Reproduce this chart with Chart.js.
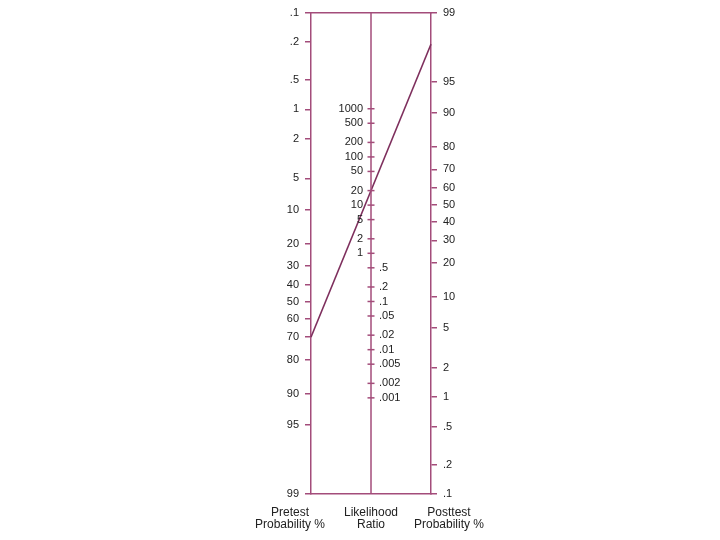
<!DOCTYPE html>
<html>
<head>
<meta charset="utf-8">
<script src="https://cdn.jsdelivr.net/npm/chart.js@4"></script>
<style>
  html, body { margin: 0; padding: 0; background: #fff; }
  #wrap { width: 720px; height: 540px; }
</style>
</head>
<body>
<div id="wrap"><canvas id="c" width="720" height="540"></canvas></div>
<script>
// ---- data ----
const axisTitles = [['Pretest', 'Probability %'], ['Likelihood', 'Ratio'], ['Posttest', 'Probability %']];
const pretestTicks = [0.1, 0.2, 0.5, 1, 2, 5, 10, 20, 30, 40, 50, 60, 70, 80, 90, 95, 99];
const pretestLabels = ['.1', '.2', '.5', '1', '2', '5', '10', '20', '30', '40', '50', '60', '70', '80', '90', '95', '99'];
const lrTicks = [1000, 500, 200, 100, 50, 20, 10, 5, 2, 1, 0.5, 0.2, 0.1, 0.05, 0.02, 0.01, 0.005, 0.002, 0.001];
const lrLabels = ['1000', '500', '200', '100', '50', '20', '10', '5', '2', '1', '.5', '.2', '.1', '.05', '.02', '.01', '.005', '.002', '.001'];
const posttestTicks = [99, 95, 90, 80, 70, 60, 50, 40, 30, 20, 10, 5, 2, 1, 0.5, 0.2, 0.1];
const posttestLabels = ['99', '95', '90', '80', '70', '60', '50', '40', '30', '20', '10', '5', '2', '1', '.5', '.2', '.1'];
// the example line: pretest %, likelihood ratio, posttest %
const examplePretest = 70;
const exampleLR = 20;
const examplePosttest = 97.9;

// ---- scale helpers ----
const logit = p => Math.log(p / (1 - p));
const PMIN = logit(0.001), PMAX = logit(0.99);
const L = PMAX - PMIN;
const AXIS = '#a34c7a';
const LINE = '#7e2f5d';
const TXT = '#222';

const midLabels = {
  id: 'midLabels',
  afterDatasetsDraw(chart) {
    const ctx = chart.ctx;
    const ym = chart.scales.yM;
    const xs = chart.scales.x;
    const cx = xs.getPixelForValue(1);
    ctx.save();
    ctx.font = '11px "Liberation Sans", Arial, sans-serif';
    ctx.fillStyle = TXT;
    ctx.textBaseline = 'middle';
    lrTicks.forEach((v, i) => {
      const y = ym.getPixelForValue(Math.log(v));
      if (v >= 1) { ctx.textAlign = 'right'; ctx.fillText(lrLabels[i], cx - 8, y); }
      else { ctx.textAlign = 'left'; ctx.fillText(lrLabels[i], cx + 8, y); }
    });
    ctx.restore();
  }
};

const yCommon = {
  type: 'linear', min: PMIN, max: PMAX,
  grid: { display: true, drawOnChartArea: false, drawTicks: true, tickLength: 6, color: AXIS, lineWidth: 1.5 },
  border: { display: true, color: AXIS, width: 1.5 },
  ticks: { autoSkip: false, padding: 6, color: TXT, font: { family: '"Liberation Sans", Arial, sans-serif', size: 11 } },
  afterFit: s => { s.width = 60; }
};

new Chart(document.getElementById('c'), {
  type: 'scatter',
  data: {
    datasets: [
      { // middle axis line
        data: [{ x: 1, y: -L }, { x: 1, y: L }],
        yAxisID: 'yM', showLine: true, borderColor: AXIS, borderWidth: 1.5, pointRadius: 0, clip: false
      },
      { // middle axis tick marks
        data: lrTicks.map(v => ({ x: 1, y: Math.log(v) })),
        yAxisID: 'yM', showLine: false, pointStyle: 'line', pointRadius: 3.5,
        borderColor: AXIS, pointBorderWidth: 1.5, clip: false
      },
      { // example line: pretest -> posttest
        data: [{ x: 0, y: logit(examplePretest / 100) }, { x: 2, y: PMIN + PMAX - logit(examplePosttest / 100) }],
        yAxisID: 'yL', showLine: true, borderColor: LINE, borderWidth: 1.5, pointRadius: 0, clip: false
      }
    ]
  },
  options: {
    responsive: false, animation: false,
    events: [],
    layout: { padding: { left: 251, right: 229, top: 12, bottom: 4 } },
    plugins: { legend: { display: false }, tooltip: { enabled: false } },
    scales: {
      x: {
        type: 'linear', position: 'bottom', min: 0, max: 2,
        grid: { display: false, drawTicks: false },
        border: { display: true, color: AXIS, width: 1.5 },
        afterBuildTicks: s => { s.ticks = [{ value: -0.35 }, { value: 1 }, { value: 2.3 }]; },
        ticks: {
          autoSkip: false, maxRotation: 0, padding: 12, color: TXT,
          font: { family: '"Liberation Sans", Arial, sans-serif', size: 12, lineHeight: 1.05 },
          callback: (v, i) => axisTitles[i]
        },
        afterFit: s => { s.height = 42; }
      },
      xTop: {
        type: 'linear', position: 'top', min: 0, max: 2,
        grid: { display: false, drawTicks: false },
        border: { display: true, color: AXIS, width: 1.5 },
        ticks: { display: false },
        afterFit: s => { s.height = 0; }
      },
      yL: Object.assign({}, yCommon, {
        position: 'left', reverse: true,
        afterBuildTicks: s => { s.ticks = pretestTicks.map(p => ({ value: logit(p / 100) })); },
        ticks: Object.assign({}, yCommon.ticks, { callback: (v, i) => pretestLabels[i] })
      }),
      yR: Object.assign({}, yCommon, {
        position: 'right', reverse: false,
        afterBuildTicks: s => { s.ticks = posttestTicks.map(p => ({ value: logit(p / 100) })); },
        ticks: Object.assign({}, yCommon.ticks, { callback: (v, i) => posttestLabels[i] })
      }),
      yM: { type: 'linear', display: false, min: -L, max: L }
    }
  },
  plugins: [midLabels]
});
</script>
</body>
</html>
